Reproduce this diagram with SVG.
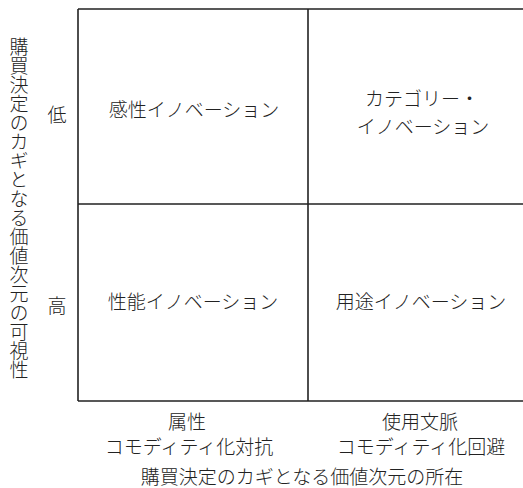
<svg xmlns="http://www.w3.org/2000/svg" width="523" height="488" viewBox="0 0 523 488">
<style>
.t{font-family:"Noto Sans CJK JP","Noto Sans CJK SC",sans-serif;font-size:19px;font-weight:300;fill:#222;text-anchor:middle;dominant-baseline:central}
.ln{stroke:#222;stroke-width:1.6;fill:none}
</style>
<rect width="523" height="488" fill="#fff"/>
<g id="grid">
<path class="ln" d="M78,9 H524 M78,401 H524 M78,9 V401 M308,9 V401 M78,204 H524"/>
</g>
<g id="q-kansei"><text class="t" x="194" y="108">感性イノベーション</text></g>
<g id="q-category"><text class="t" x="422" y="97">カテゴリー・</text><text class="t" x="423" y="125">イノベーション</text></g>
<g id="q-seino"><text class="t" x="193" y="300">性能イノベーション</text></g>
<g id="q-yoto"><text class="t" x="421" y="300">用途イノベーション</text></g>
<g id="x-left"><text class="t" x="187" y="420">属性</text><text class="t" x="189" y="445">コモディティ化対抗</text></g>
<g id="x-right"><text class="t" x="420" y="420">使用文脈</text><text class="t" x="421" y="445">コモディティ化回避</text></g>
<g id="x-title"><text class="t" x="302" y="475">購買決定のカギとなる価値次元の所在</text></g>
<g id="y-low"><text class="t" x="57" y="113">低</text></g>
<g id="y-high"><text class="t" x="57" y="304">高</text></g>
<g id="y-title"><text class="t" x="19" y="208" style="writing-mode:vertical-rl">購買決定のカギとなる価値次元の可視性</text></g>
</svg>
